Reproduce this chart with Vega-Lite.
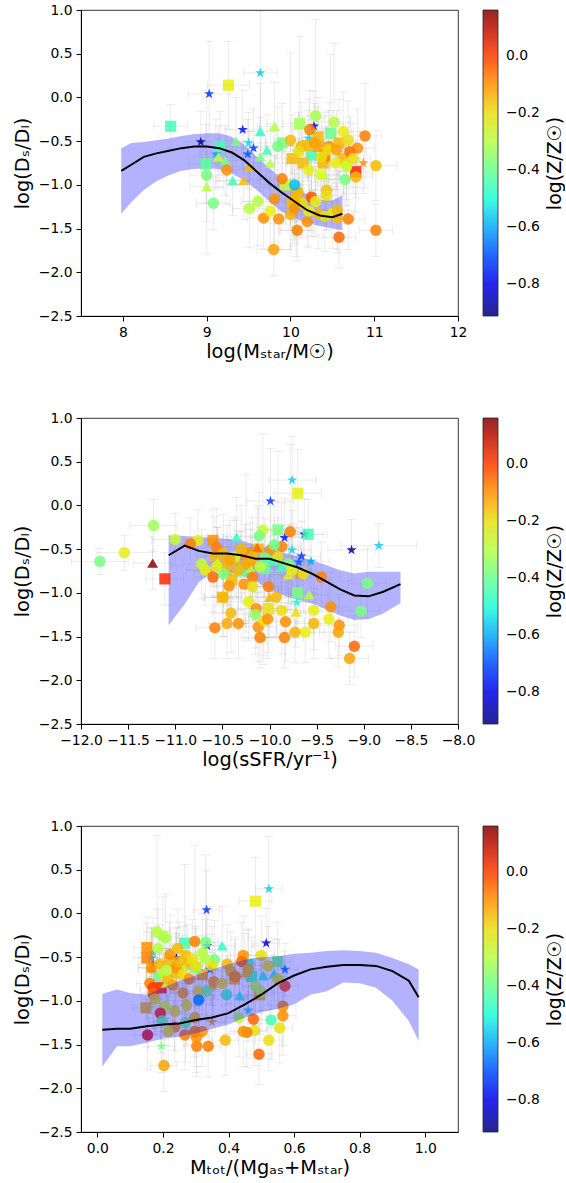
{
"$schema":"https://vega.github.io/schema/vega-lite/v6.json",
"background":"white",
"padding":{"left":11,"top":2,"right":0,"bottom":0},
"config":{"view":{"stroke":"#000","strokeWidth":0.8},
"axis":{"grid":false,"domainColor":"#000","tickColor":"#000","labelFont":"DejaVu Sans","titleFont":"DejaVu Sans","labelFontSize":13.9,"titleFontSize":19.4,"titleFontWeight":"normal","labelColor":"#000","titleColor":"#000","tickSize":5,"labelPadding":4,"labelOverlap":false,"labelFlush":false},
"legend":{"labelFont":"DejaVu Sans","titleFont":"DejaVu Sans","titleFontWeight":"normal","labelColor":"#000","titleColor":"#000"}},
"datasets":{
"b1":[{"x":7.98,"mid":-0.84,"hi":-0.58,"lo":-1.33},{"x":8.1,"mid":-0.77,"hi":-0.52,"lo":-1.2},{"x":8.25,"mid":-0.68,"hi":-0.51,"lo":-1.06},{"x":8.4,"mid":-0.64,"hi":-0.49,"lo":-0.96},{"x":8.55,"mid":-0.61,"hi":-0.47,"lo":-0.89},{"x":8.7,"mid":-0.58,"hi":-0.44,"lo":-0.84},{"x":8.85,"mid":-0.56,"hi":-0.42,"lo":-0.82},{"x":9.0,"mid":-0.56,"hi":-0.41,"lo":-0.81},{"x":9.15,"mid":-0.58,"hi":-0.41,"lo":-0.82},{"x":9.3,"mid":-0.63,"hi":-0.45,"lo":-0.87},{"x":9.45,"mid":-0.72,"hi":-0.54,"lo":-0.95},{"x":9.6,"mid":-0.85,"hi":-0.68,"lo":-1.06},{"x":9.75,"mid":-0.98,"hi":-0.81,"lo":-1.19},{"x":9.9,"mid":-1.09,"hi":-0.93,"lo":-1.31},{"x":10.05,"mid":-1.19,"hi":-1.03,"lo":-1.38},{"x":10.2,"mid":-1.29,"hi":-1.11,"lo":-1.44},{"x":10.35,"mid":-1.35,"hi":-1.17,"lo":-1.47},{"x":10.5,"mid":-1.37,"hi":-1.18,"lo":-1.5},{"x":10.62,"mid":-1.33,"hi":-1.12,"lo":-1.52}],
"b2":[{"x":-11.07,"mid":-0.57,"hi":-0.34,"lo":-1.37},{"x":-10.9,"mid":-0.46,"hi":-0.35,"lo":-1.13},{"x":-10.75,"mid":-0.52,"hi":-0.36,"lo":-0.88},{"x":-10.6,"mid":-0.55,"hi":-0.37,"lo":-0.76},{"x":-10.45,"mid":-0.55,"hi":-0.38,"lo":-0.76},{"x":-10.3,"mid":-0.57,"hi":-0.4,"lo":-0.8},{"x":-10.15,"mid":-0.61,"hi":-0.45,"lo":-0.86},{"x":-10.0,"mid":-0.61,"hi":-0.5,"lo":-0.97},{"x":-9.85,"mid":-0.66,"hi":-0.54,"lo":-1.03},{"x":-9.7,"mid":-0.71,"hi":-0.58,"lo":-1.08},{"x":-9.55,"mid":-0.78,"hi":-0.63,"lo":-1.12},{"x":-9.4,"mid":-0.87,"hi":-0.68,"lo":-1.19},{"x":-9.25,"mid":-0.96,"hi":-0.74,"lo":-1.26},{"x":-9.1,"mid":-1.03,"hi":-0.78,"lo":-1.31},{"x":-8.95,"mid":-1.04,"hi":-0.76,"lo":-1.3},{"x":-8.8,"mid":-0.99,"hi":-0.76,"lo":-1.24},{"x":-8.61,"mid":-0.9,"hi":-0.76,"lo":-1.12}],
"b3":[{"x":0.015,"mid":-1.33,"hi":-0.92,"lo":-1.75},{"x":0.06,"mid":-1.32,"hi":-0.87,"lo":-1.52},{"x":0.1,"mid":-1.32,"hi":-0.91,"lo":-1.52},{"x":0.15,"mid":-1.29,"hi":-0.93,"lo":-1.48},{"x":0.2,"mid":-1.27,"hi":-0.85,"lo":-1.43},{"x":0.25,"mid":-1.26,"hi":-0.77,"lo":-1.41},{"x":0.3,"mid":-1.22,"hi":-0.71,"lo":-1.37},{"x":0.35,"mid":-1.19,"hi":-0.64,"lo":-1.32},{"x":0.4,"mid":-1.14,"hi":-0.58,"lo":-1.27},{"x":0.45,"mid":-1.04,"hi":-0.53,"lo":-1.19},{"x":0.5,"mid":-0.93,"hi":-0.5,"lo":-1.13},{"x":0.55,"mid":-0.8,"hi":-0.49,"lo":-1.09},{"x":0.6,"mid":-0.71,"hi":-0.46,"lo":-1.04},{"x":0.65,"mid":-0.64,"hi":-0.45,"lo":-0.93},{"x":0.7,"mid":-0.61,"hi":-0.43,"lo":-0.89},{"x":0.75,"mid":-0.59,"hi":-0.42,"lo":-0.79},{"x":0.8,"mid":-0.59,"hi":-0.43,"lo":-0.8},{"x":0.85,"mid":-0.6,"hi":-0.45,"lo":-0.85},{"x":0.9,"mid":-0.66,"hi":-0.51,"lo":-1.0},{"x":0.95,"mid":-0.77,"hi":-0.58,"lo":-1.23},{"x":0.98,"mid":-0.96,"hi":-0.64,"lo":-1.46}],
"p1":[
{"x":9.03,"y":0.04,"z":-0.72,"s":"star","xe":0.25,"ye":0.6},
{"x":9.64,"y":0.28,"z":-0.56,"s":"star","xe":0.2,"ye":0.7},
{"x":8.93,"y":-0.51,"z":-0.88,"s":"star","xe":0.2,"ye":0.35},
{"x":9.43,"y":-0.37,"z":-0.76,"s":"star","xe":0.2,"ye":0.45},
{"x":9.11,"y":-0.65,"z":-0.6,"s":"star","xe":0.2,"ye":0.4},
{"x":9.56,"y":-0.58,"z":-0.72,"s":"star","xe":0.15,"ye":0.45},
{"x":9.49,"y":-0.65,"z":-0.68,"s":"star","xe":0.2,"ye":0.4},
{"x":9.5,"y":-0.52,"z":-0.55,"s":"star","xe":0.2,"ye":0.35},
{"x":10.28,"y":-0.33,"z":-0.82,"s":"star","xe":0.2,"ye":0.4},
{"x":10.22,"y":-0.47,"z":-0.55,"s":"star","xe":0.2,"ye":0.45},
{"x":10.07,"y":-1.52,"z":-0.38,"s":"star","xe":0.2,"ye":0.3},
{"x":10.87,"y":-0.75,"z":-0.1,"s":"star","xe":0.2,"ye":0.35},
{"x":9.26,"y":0.14,"z":-0.22,"s":"square","xe":0.25,"ye":0.5},
{"x":8.57,"y":-0.33,"z":-0.45,"s":"square","xe":0.2,"ye":0.25},
{"x":8.99,"y":-0.76,"z":-0.42,"s":"square","xe":0.2,"ye":0.45},
{"x":9.16,"y":-0.56,"z":-0.45,"s":"square","xe":0.2,"ye":0.4},
{"x":10.11,"y":-0.3,"z":-0.32,"s":"square","xe":0.2,"ye":1.0},
{"x":10.48,"y":-0.41,"z":-0.4,"s":"square","xe":0.25,"ye":0.9},
{"x":10.25,"y":-0.66,"z":-0.45,"s":"square","xe":0.2,"ye":0.4},
{"x":9.9,"y":-0.52,"z":-0.38,"s":"square","xe":0.2,"ye":0.45},
{"x":10.02,"y":-0.7,"z":-0.15,"s":"square","xe":0.2,"ye":0.5},
{"x":10.15,"y":-0.75,"z":-0.15,"s":"square","xe":0.2,"ye":0.4},
{"x":10.39,"y":-0.75,"z":-0.15,"s":"square","xe":0.2,"ye":0.4},
{"x":10.33,"y":-0.56,"z":-0.12,"s":"square","xe":0.2,"ye":0.45},
{"x":10.58,"y":-0.52,"z":-0.15,"s":"square","xe":0.2,"ye":0.5},
{"x":10.78,"y":-0.85,"z":0.03,"s":"square","xe":0.2,"ye":0.3},
{"x":9.94,"y":-1.0,"z":-0.28,"s":"square","xe":0.2,"ye":0.45},
{"x":10.07,"y":-1.1,"z":-0.15,"s":"square","xe":0.2,"ye":0.5},
{"x":10.41,"y":-0.67,"z":-0.08,"s":"square","xe":0.2,"ye":0.5},
{"x":10.63,"y":-0.7,"z":-0.15,"s":"square","xe":0.2,"ye":0.4},
{"x":10.33,"y":-0.45,"z":-0.15,"s":"square","xe":0.2,"ye":0.45},
{"x":10.2,"y":-0.55,"z":-0.15,"s":"square","xe":0.2,"ye":0.4},
{"x":10.02,"y":-1.2,"z":-0.15,"s":"square","xe":0.2,"ye":0.5},
{"x":9.0,"y":-1.02,"z":-0.3,"s":"triangle","xe":0.2,"ye":0.4},
{"x":9.31,"y":-0.95,"z":-0.46,"s":"triangle","xe":0.2,"ye":0.4},
{"x":9.44,"y":-0.95,"z":-0.15,"s":"triangle","xe":0.2,"ye":0.45},
{"x":9.35,"y":-0.5,"z":-0.38,"s":"triangle","xe":0.2,"ye":0.5},
{"x":9.64,"y":-0.39,"z":-0.47,"s":"triangle","xe":0.2,"ye":0.55},
{"x":9.81,"y":-0.33,"z":-0.3,"s":"triangle","xe":0.2,"ye":0.5},
{"x":9.76,"y":-0.75,"z":-0.3,"s":"triangle","xe":0.2,"ye":0.45},
{"x":9.64,"y":-0.68,"z":-0.38,"s":"triangle","xe":0.2,"ye":0.45},
{"x":9.51,"y":-0.79,"z":-0.15,"s":"triangle","xe":0.2,"ye":0.4},
{"x":10.4,"y":-0.89,"z":-0.28,"s":"triangle","xe":0.2,"ye":0.4},
{"x":9.72,"y":-0.6,"z":-0.45,"s":"triangle","xe":0.2,"ye":0.4},
{"x":9.22,"y":-0.72,"z":-0.38,"s":"triangle","xe":0.2,"ye":0.4},
{"x":9.14,"y":-0.68,"z":-0.28,"s":"triangle","xe":0.2,"ye":0.35},
{"x":9.0,"y":-0.89,"z":-0.38,"s":"circle","xe":0.2,"ye":0.9},
{"x":9.08,"y":-1.21,"z":-0.38,"s":"circle","xe":0.2,"ye":0.3},
{"x":9.24,"y":-0.83,"z":-0.1,"s":"circle","xe":0.2,"ye":0.4},
{"x":9.51,"y":-1.27,"z":-0.3,"s":"circle","xe":0.2,"ye":0.45},
{"x":9.61,"y":-1.19,"z":-0.3,"s":"circle","xe":0.2,"ye":0.5},
{"x":9.68,"y":-1.38,"z":-0.1,"s":"circle","xe":0.2,"ye":0.35},
{"x":9.76,"y":-1.3,"z":-0.22,"s":"circle","xe":0.2,"ye":0.45},
{"x":9.81,"y":-1.16,"z":-0.1,"s":"circle","xe":0.2,"ye":0.5},
{"x":9.86,"y":-1.39,"z":-0.1,"s":"circle","xe":0.2,"ye":0.35},
{"x":9.8,"y":-1.74,"z":-0.12,"s":"circle","xe":0.2,"ye":0.3},
{"x":9.9,"y":-0.93,"z":-0.08,"s":"circle","xe":0.2,"ye":0.45},
{"x":10.0,"y":-1.34,"z":-0.14,"s":"circle","xe":0.2,"ye":0.4},
{"x":10.09,"y":-1.08,"z":-0.15,"s":"circle","xe":0.2,"ye":0.5},
{"x":10.14,"y":-1.21,"z":-0.2,"s":"circle","xe":0.2,"ye":0.4},
{"x":10.2,"y":-1.42,"z":-0.1,"s":"circle","xe":0.2,"ye":0.3},
{"x":10.08,"y":-1.52,"z":-0.08,"s":"circle","xe":0.2,"ye":0.35},
{"x":10.25,"y":-1.14,"z":-0.03,"s":"circle","xe":0.2,"ye":0.45},
{"x":10.3,"y":-1.19,"z":-0.22,"s":"circle","xe":0.2,"ye":0.4},
{"x":10.43,"y":-1.06,"z":-0.16,"s":"circle","xe":0.2,"ye":0.45},
{"x":10.43,"y":-1.12,"z":-0.2,"s":"circle","xe":0.2,"ye":0.4},
{"x":10.5,"y":-1.33,"z":-0.22,"s":"circle","xe":0.2,"ye":0.4},
{"x":10.56,"y":-1.29,"z":-0.15,"s":"circle","xe":0.2,"ye":0.45},
{"x":10.56,"y":-1.38,"z":-0.15,"s":"circle","xe":0.2,"ye":0.4},
{"x":10.69,"y":-1.39,"z":-0.08,"s":"circle","xe":0.2,"ye":0.35},
{"x":10.58,"y":-1.6,"z":-0.05,"s":"circle","xe":0.2,"ye":0.35},
{"x":11.02,"y":-1.52,"z":-0.08,"s":"circle","xe":0.2,"ye":0.3},
{"x":11.02,"y":-0.78,"z":-0.15,"s":"circle","xe":0.25,"ye":0.4},
{"x":10.89,"y":-0.44,"z":-0.08,"s":"circle","xe":0.2,"ye":0.6},
{"x":10.8,"y":-0.58,"z":-0.1,"s":"circle","xe":0.2,"ye":0.45},
{"x":10.71,"y":-0.62,"z":-0.06,"s":"circle","xe":0.2,"ye":0.4},
{"x":10.65,"y":-0.94,"z":-0.38,"s":"circle","xe":0.2,"ye":0.4},
{"x":10.3,"y":-0.21,"z":-0.32,"s":"circle","xe":0.2,"ye":1.1},
{"x":10.52,"y":-0.28,"z":-0.3,"s":"circle","xe":0.2,"ye":0.9},
{"x":10.63,"y":-0.39,"z":-0.22,"s":"circle","xe":0.2,"ye":0.45},
{"x":10.69,"y":-0.49,"z":-0.2,"s":"circle","xe":0.2,"ye":0.45},
{"x":10.0,"y":-0.49,"z":-0.15,"s":"circle","xe":0.2,"ye":1.0},
{"x":10.23,"y":-0.37,"z":-0.08,"s":"circle","xe":0.2,"ye":0.45},
{"x":10.37,"y":-0.68,"z":-0.2,"s":"circle","xe":0.2,"ye":0.45},
{"x":10.22,"y":-0.83,"z":-0.22,"s":"circle","xe":0.2,"ye":0.4},
{"x":10.67,"y":-0.77,"z":-0.2,"s":"circle","xe":0.2,"ye":0.4},
{"x":10.78,"y":-0.91,"z":-0.15,"s":"circle","xe":0.2,"ye":0.4},
{"x":10.54,"y":-0.75,"z":-0.22,"s":"circle","xe":0.2,"ye":0.45},
{"x":10.46,"y":-0.56,"z":-0.1,"s":"circle","xe":0.2,"ye":0.5},
{"x":10.29,"y":-0.52,"z":-0.12,"s":"circle","xe":0.2,"ye":0.45},
{"x":10.13,"y":-0.56,"z":-0.15,"s":"circle","xe":0.2,"ye":0.5},
{"x":10.05,"y":-1.18,"z":-0.15,"s":"circle","xe":0.2,"ye":0.45},
{"x":10.33,"y":-1.33,"z":-0.15,"s":"circle","xe":0.2,"ye":0.4},
{"x":10.05,"y":-1.27,"z":-0.1,"s":"circle","xe":0.2,"ye":0.4},
{"x":10.41,"y":-1.36,"z":-0.2,"s":"circle","xe":0.2,"ye":0.4},
{"x":10.22,"y":-1.3,"z":-0.22,"s":"circle","xe":0.2,"ye":0.4},
{"x":10.67,"y":-0.79,"z":-0.28,"s":"circle","xe":0.2,"ye":0.45},
{"x":10.05,"y":-1.0,"z":-0.58,"s":"circle","xe":0.2,"ye":0.4},
{"x":10.45,"y":-0.6,"z":-0.2,"s":"circle","xe":0.2,"ye":0.45},
{"x":10.1,"y":-0.62,"z":-0.2,"s":"circle","xe":0.2,"ye":0.45},
{"x":10.55,"y":-0.6,"z":-0.12,"s":"circle","xe":0.2,"ye":0.45},
{"x":9.85,"y":-0.56,"z":-0.38,"s":"circle","xe":0.2,"ye":0.45},
{"x":10.75,"y":-0.7,"z":-0.2,"s":"circle","xe":0.2,"ye":0.4},
{"x":10.36,"y":-0.88,"z":-0.25,"s":"circle","xe":0.2,"ye":0.4}],
"p2":[
{"x":-9.76,"y":0.29,"z":-0.56,"s":"star","xe":0.25,"ye":0.5},
{"x":-9.99,"y":0.05,"z":-0.72,"s":"star","xe":0.25,"ye":0.6},
{"x":-9.84,"y":-0.37,"z":-0.76,"s":"star","xe":0.2,"ye":0.45},
{"x":-9.63,"y":-0.33,"z":-0.82,"s":"star","xe":0.2,"ye":0.4},
{"x":-9.13,"y":-0.51,"z":-0.88,"s":"star","xe":0.25,"ye":0.35},
{"x":-8.84,"y":-0.46,"z":-0.56,"s":"star","xe":0.4,"ye":0.25},
{"x":-9.76,"y":-0.51,"z":-0.55,"s":"star","xe":0.2,"ye":0.45},
{"x":-9.66,"y":-0.58,"z":-0.72,"s":"star","xe":0.2,"ye":0.4},
{"x":-9.69,"y":-0.65,"z":-0.68,"s":"star","xe":0.2,"ye":0.4},
{"x":-9.56,"y":-0.64,"z":-0.6,"s":"star","xe":0.2,"ye":0.35},
{"x":-9.71,"y":-1.11,"z":-0.5,"s":"star","xe":0.2,"ye":0.35},
{"x":-10.07,"y":-1.52,"z":-0.38,"s":"star","xe":0.2,"ye":0.3},
{"x":-9.7,"y":-0.8,"z":-0.1,"s":"star","xe":0.2,"ye":0.3},
{"x":-9.7,"y":0.14,"z":-0.22,"s":"square","xe":0.25,"ye":0.5},
{"x":-10.6,"y":-0.4,"z":-0.1,"s":"square","xe":0.2,"ye":0.35},
{"x":-11.11,"y":-0.84,"z":0.02,"s":"square","xe":0.2,"ye":0.3},
{"x":-9.59,"y":-0.33,"z":-0.45,"s":"square","xe":0.2,"ye":0.4},
{"x":-9.91,"y":-0.28,"z":-0.38,"s":"square","xe":0.2,"ye":0.9},
{"x":-10.5,"y":-1.05,"z":-0.15,"s":"square","xe":0.2,"ye":0.45},
{"x":-10.01,"y":-1.18,"z":-0.2,"s":"square","xe":0.2,"ye":0.5},
{"x":-9.7,"y":-1.0,"z":-0.38,"s":"square","xe":0.2,"ye":0.45},
{"x":-10.45,"y":-0.68,"z":-0.15,"s":"square","xe":0.2,"ye":0.45},
{"x":-10.25,"y":-0.55,"z":-0.1,"s":"square","xe":0.2,"ye":0.9},
{"x":-10.05,"y":-0.72,"z":-0.4,"s":"square","xe":0.2,"ye":0.45},
{"x":-10.3,"y":-0.75,"z":-0.42,"s":"square","xe":0.2,"ye":0.45},
{"x":-10.12,"y":-0.5,"z":-0.15,"s":"square","xe":0.2,"ye":0.5},
{"x":-10.58,"y":-0.58,"z":-0.15,"s":"square","xe":0.2,"ye":0.45},
{"x":-9.95,"y":-0.62,"z":-0.45,"s":"square","xe":0.2,"ye":0.45},
{"x":-10.4,"y":-0.85,"z":-0.15,"s":"square","xe":0.2,"ye":0.45},
{"x":-10.2,"y":-0.65,"z":-0.12,"s":"square","xe":0.2,"ye":0.45},
{"x":-11.24,"y":-0.66,"z":0.15,"s":"triangle","xe":0.2,"ye":0.3},
{"x":-10.35,"y":-0.36,"z":-0.47,"s":"triangle","xe":0.2,"ye":0.45},
{"x":-10.13,"y":-0.48,"z":-0.05,"s":"triangle","xe":0.2,"ye":0.45},
{"x":-9.58,"y":-1.02,"z":-0.3,"s":"triangle","xe":0.2,"ye":0.4},
{"x":-10.35,"y":-0.62,"z":-0.15,"s":"triangle","xe":0.2,"ye":0.45},
{"x":-10.2,"y":-0.72,"z":-0.3,"s":"triangle","xe":0.2,"ye":0.45},
{"x":-9.88,"y":-0.71,"z":-0.45,"s":"triangle","xe":0.2,"ye":0.45},
{"x":-10.45,"y":-0.75,"z":-0.15,"s":"triangle","xe":0.2,"ye":0.4},
{"x":-10.0,"y":-1.05,"z":-0.15,"s":"triangle","xe":0.2,"ye":0.45},
{"x":-9.77,"y":-0.68,"z":-0.38,"s":"triangle","xe":0.2,"ye":0.45},
{"x":-9.8,"y":-0.79,"z":-0.22,"s":"triangle","xe":0.2,"ye":0.4},
{"x":-10.55,"y":-0.65,"z":-0.3,"s":"triangle","xe":0.2,"ye":0.4},
{"x":-9.72,"y":-1.22,"z":-0.2,"s":"triangle","xe":0.2,"ye":0.4},
{"x":-11.8,"y":-0.64,"z":-0.38,"s":"circle","xe":0.3,"ye":0.15},
{"x":-11.54,"y":-0.54,"z":-0.22,"s":"circle","xe":0.3,"ye":0.2},
{"x":-11.23,"y":-0.23,"z":-0.33,"s":"circle","xe":0.25,"ye":0.3},
{"x":-11.0,"y":-0.39,"z":-0.28,"s":"circle","xe":0.25,"ye":0.3},
{"x":-10.76,"y":-0.4,"z":-0.22,"s":"circle","xe":0.2,"ye":0.35},
{"x":-10.84,"y":-0.44,"z":-0.08,"s":"circle","xe":0.2,"ye":0.3},
{"x":-10.07,"y":-0.28,"z":-0.28,"s":"circle","xe":0.2,"ye":1.1},
{"x":-10.11,"y":-0.35,"z":-0.38,"s":"circle","xe":0.2,"ye":0.5},
{"x":-9.78,"y":-0.3,"z":-0.08,"s":"circle","xe":0.2,"ye":1.0},
{"x":-8.96,"y":-0.89,"z":-0.38,"s":"circle","xe":0.2,"ye":0.4},
{"x":-9.03,"y":-1.21,"z":-0.38,"s":"circle","xe":0.2,"ye":0.3},
{"x":-9.45,"y":-0.82,"z":-0.08,"s":"circle","xe":0.2,"ye":0.4},
{"x":-9.35,"y":-1.16,"z":-0.1,"s":"circle","xe":0.2,"ye":0.4},
{"x":-9.37,"y":-1.3,"z":-0.22,"s":"circle","xe":0.2,"ye":0.45},
{"x":-9.26,"y":-1.37,"z":-0.1,"s":"circle","xe":0.2,"ye":0.35},
{"x":-9.27,"y":-1.45,"z":-0.12,"s":"circle","xe":0.2,"ye":0.4},
{"x":-9.1,"y":-1.61,"z":-0.05,"s":"circle","xe":0.2,"ye":0.35},
{"x":-9.15,"y":-1.75,"z":-0.12,"s":"circle","xe":0.2,"ye":0.3},
{"x":-9.53,"y":-1.2,"z":-0.22,"s":"circle","xe":0.2,"ye":0.45},
{"x":-9.53,"y":-1.35,"z":-0.14,"s":"circle","xe":0.2,"ye":0.4},
{"x":-9.62,"y":-1.45,"z":-0.22,"s":"circle","xe":0.2,"ye":0.35},
{"x":-9.73,"y":-1.45,"z":-0.14,"s":"circle","xe":0.2,"ye":0.35},
{"x":-9.84,"y":-1.51,"z":-0.08,"s":"circle","xe":0.2,"ye":0.35},
{"x":-9.83,"y":-1.33,"z":-0.1,"s":"circle","xe":0.2,"ye":0.45},
{"x":-9.87,"y":-1.2,"z":-0.2,"s":"circle","xe":0.2,"ye":0.5},
{"x":-9.93,"y":-1.05,"z":-0.15,"s":"circle","xe":0.2,"ye":0.45},
{"x":-10.01,"y":-0.93,"z":-0.08,"s":"circle","xe":0.2,"ye":0.45},
{"x":-10.22,"y":-1.1,"z":-0.22,"s":"circle","xe":0.2,"ye":0.45},
{"x":-10.14,"y":-1.18,"z":-0.1,"s":"circle","xe":0.2,"ye":0.45},
{"x":-10.12,"y":-1.39,"z":-0.1,"s":"circle","xe":0.2,"ye":0.4},
{"x":-10.1,"y":-1.51,"z":-0.08,"s":"circle","xe":0.2,"ye":0.35},
{"x":-10.06,"y":-1.32,"z":-0.2,"s":"circle","xe":0.2,"ye":0.4},
{"x":-10.02,"y":-1.3,"z":-0.1,"s":"circle","xe":0.2,"ye":0.45},
{"x":-10.58,"y":-1.4,"z":-0.08,"s":"circle","xe":0.2,"ye":0.35},
{"x":-10.45,"y":-1.35,"z":-0.13,"s":"circle","xe":0.2,"ye":0.4},
{"x":-10.33,"y":-1.35,"z":-0.1,"s":"circle","xe":0.2,"ye":0.4},
{"x":-10.41,"y":-1.23,"z":-0.15,"s":"circle","xe":0.2,"ye":0.45},
{"x":-10.49,"y":-1.05,"z":-0.15,"s":"circle","xe":0.2,"ye":0.45},
{"x":-10.43,"y":-0.92,"z":-0.1,"s":"circle","xe":0.2,"ye":0.45},
{"x":-10.27,"y":-0.9,"z":-0.1,"s":"circle","xe":0.2,"ye":0.45},
{"x":-10.72,"y":-0.67,"z":-0.28,"s":"circle","xe":0.2,"ye":0.4},
{"x":-10.68,"y":-0.74,"z":-0.22,"s":"circle","xe":0.2,"ye":0.4},
{"x":-10.56,"y":-0.48,"z":-0.08,"s":"circle","xe":0.2,"ye":0.45},
{"x":-10.49,"y":-0.55,"z":-0.15,"s":"circle","xe":0.2,"ye":0.45},
{"x":-10.37,"y":-0.59,"z":-0.28,"s":"circle","xe":0.2,"ye":0.45},
{"x":-10.25,"y":-0.67,"z":-0.13,"s":"circle","xe":0.2,"ye":0.45},
{"x":-10.18,"y":-0.59,"z":-0.15,"s":"circle","xe":0.2,"ye":0.45},
{"x":-10.49,"y":-0.78,"z":-0.38,"s":"circle","xe":0.2,"ye":0.45},
{"x":-10.56,"y":-0.7,"z":-0.22,"s":"circle","xe":0.2,"ye":0.45},
{"x":-9.99,"y":-0.51,"z":-0.1,"s":"circle","xe":0.2,"ye":0.5},
{"x":-9.91,"y":-0.59,"z":-0.2,"s":"circle","xe":0.2,"ye":0.45},
{"x":-9.8,"y":-0.67,"z":-0.38,"s":"circle","xe":0.2,"ye":0.45},
{"x":-9.76,"y":-0.74,"z":-0.22,"s":"circle","xe":0.2,"ye":0.45},
{"x":-9.64,"y":-0.78,"z":-0.2,"s":"circle","xe":0.2,"ye":0.45},
{"x":-9.87,"y":-0.47,"z":-0.08,"s":"circle","xe":0.2,"ye":0.5},
{"x":-10.18,"y":-0.82,"z":-0.08,"s":"circle","xe":0.2,"ye":0.45},
{"x":-10.1,"y":-0.7,"z":-0.28,"s":"circle","xe":0.2,"ye":0.45},
{"x":-10.33,"y":-0.74,"z":-0.15,"s":"circle","xe":0.2,"ye":0.45},
{"x":-10.6,"y":-0.82,"z":-0.05,"s":"circle","xe":0.2,"ye":0.4},
{"x":-10.18,"y":-0.93,"z":-0.2,"s":"circle","xe":0.2,"ye":0.45},
{"x":-10.15,"y":-1.25,"z":-0.35,"s":"circle","xe":0.2,"ye":0.45},
{"x":-10.05,"y":-0.6,"z":-0.4,"s":"circle","xe":0.2,"ye":0.45},
{"x":-9.95,"y":-0.45,"z":-0.4,"s":"circle","xe":0.2,"ye":0.5},
{"x":-10.3,"y":-0.5,"z":-0.15,"s":"circle","xe":0.2,"ye":0.5},
{"x":-10.42,"y":-0.62,"z":-0.12,"s":"circle","xe":0.2,"ye":0.45}],
"p3":[
{"x":0.523,"y":0.28,"z":-0.56,"s":"star","xe":0.04,"ye":0.6},
{"x":0.333,"y":0.04,"z":-0.72,"s":"star","xe":0.04,"ye":0.45},
{"x":0.335,"y":-0.37,"z":-0.76,"s":"star","xe":0.04,"ye":0.45},
{"x":0.515,"y":-0.34,"z":-0.82,"s":"star","xe":0.04,"ye":0.4},
{"x":0.241,"y":-0.51,"z":-0.88,"s":"star","xe":0.04,"ye":0.35},
{"x":0.343,"y":-0.64,"z":-0.72,"s":"star","xe":0.04,"ye":0.4},
{"x":0.572,"y":-0.64,"z":-0.65,"s":"star","xe":0.04,"ye":0.3},
{"x":0.17,"y":-0.45,"z":-0.56,"s":"star","xe":0.04,"ye":0.4},
{"x":0.17,"y":-0.58,"z":-0.72,"s":"star","xe":0.04,"ye":0.4},
{"x":0.165,"y":-0.51,"z":-0.6,"s":"star","xe":0.04,"ye":0.35},
{"x":0.46,"y":-1.11,"z":-0.55,"s":"star","xe":0.04,"ye":0.35},
{"x":0.195,"y":-1.52,"z":-0.38,"s":"star","xe":0.04,"ye":0.3},
{"x":0.35,"y":-1.24,"z":-0.12,"s":"star","xe":0.04,"ye":0.3},
{"x":0.482,"y":0.14,"z":-0.22,"s":"square","xe":0.05,"ye":0.5},
{"x":0.266,"y":-0.34,"z":-0.45,"s":"square","xe":0.04,"ye":0.9},
{"x":0.151,"y":-0.39,"z":-0.1,"s":"square","xe":0.04,"ye":0.35},
{"x":0.151,"y":-0.51,"z":-0.08,"s":"square","xe":0.04,"ye":0.4},
{"x":0.46,"y":-0.58,"z":-0.45,"s":"square","xe":0.04,"ye":0.4},
{"x":0.194,"y":-0.85,"z":0.02,"s":"square","xe":0.04,"ye":0.3},
{"x":0.148,"y":-1.08,"z":-0.15,"s":"square","xe":0.04,"ye":0.45},
{"x":0.495,"y":-0.93,"z":-0.15,"s":"square","xe":0.04,"ye":0.45},
{"x":0.55,"y":-0.55,"z":-0.38,"s":"square","xe":0.04,"ye":0.45},
{"x":0.418,"y":-0.75,"z":-0.15,"s":"square","xe":0.04,"ye":0.45},
{"x":0.32,"y":-0.7,"z":-0.12,"s":"square","xe":0.04,"ye":0.45},
{"x":0.275,"y":-0.58,"z":-0.15,"s":"square","xe":0.04,"ye":0.45},
{"x":0.24,"y":-0.68,"z":-0.15,"s":"square","xe":0.04,"ye":0.45},
{"x":0.19,"y":-0.72,"z":-0.42,"s":"square","xe":0.04,"ye":0.45},
{"x":0.3,"y":-0.62,"z":-0.4,"s":"square","xe":0.04,"ye":0.45},
{"x":0.22,"y":-0.55,"z":-0.15,"s":"square","xe":0.04,"ye":0.45},
{"x":0.47,"y":-0.72,"z":-0.45,"s":"square","xe":0.04,"ye":0.45},
{"x":0.381,"y":-0.37,"z":-0.47,"s":"triangle","xe":0.04,"ye":0.45},
{"x":0.506,"y":-0.71,"z":-0.5,"s":"triangle","xe":0.04,"ye":0.4},
{"x":0.539,"y":-0.69,"z":-0.52,"s":"triangle","xe":0.04,"ye":0.4},
{"x":0.434,"y":-0.94,"z":-0.5,"s":"triangle","xe":0.04,"ye":0.4},
{"x":0.164,"y":-0.62,"z":-0.1,"s":"triangle","xe":0.04,"ye":0.4},
{"x":0.21,"y":-0.8,"z":-0.3,"s":"triangle","xe":0.04,"ye":0.4},
{"x":0.35,"y":-0.82,"z":-0.15,"s":"triangle","xe":0.04,"ye":0.4},
{"x":0.26,"y":-0.6,"z":-0.3,"s":"triangle","xe":0.04,"ye":0.45},
{"x":0.45,"y":-0.68,"z":-0.15,"s":"triangle","xe":0.04,"ye":0.45},
{"x":0.182,"y":-0.21,"z":-0.3,"s":"circle","xe":0.04,"ye":1.1},
{"x":0.208,"y":-0.28,"z":-0.32,"s":"circle","xe":0.04,"ye":0.5},
{"x":0.2,"y":-0.26,"z":-0.3,"s":"circle","xe":0.04,"ye":0.45},
{"x":0.297,"y":-0.32,"z":-0.08,"s":"circle","xe":0.04,"ye":1.1},
{"x":0.33,"y":-0.33,"z":-0.38,"s":"circle","xe":0.04,"ye":1.0},
{"x":0.357,"y":-0.53,"z":-0.38,"s":"circle","xe":0.04,"ye":0.45},
{"x":0.5,"y":-0.48,"z":-0.2,"s":"circle","xe":0.04,"ye":0.45},
{"x":0.445,"y":-0.48,"z":-0.1,"s":"circle","xe":0.04,"ye":0.45},
{"x":0.396,"y":-0.58,"z":-0.15,"s":"circle","xe":0.04,"ye":0.45},
{"x":0.407,"y":-0.66,"z":-0.15,"s":"circle","xe":0.04,"ye":0.45},
{"x":0.355,"y":-0.78,"z":-0.12,"s":"circle","xe":0.04,"ye":0.45},
{"x":0.261,"y":-0.91,"z":-0.12,"s":"circle","xe":0.04,"ye":0.45},
{"x":0.308,"y":-0.89,"z":-0.2,"s":"circle","xe":0.04,"ye":0.45},
{"x":0.394,"y":-0.93,"z":-0.45,"s":"circle","xe":0.04,"ye":0.45},
{"x":0.309,"y":-0.99,"z":-0.62,"s":"circle","xe":0.04,"ye":0.4},
{"x":0.333,"y":-0.89,"z":-0.38,"s":"circle","xe":0.04,"ye":0.45},
{"x":0.482,"y":-0.83,"z":-0.3,"s":"circle","xe":0.04,"ye":0.45},
{"x":0.572,"y":-0.83,"z":-0.02,"s":"circle","xe":0.04,"ye":0.4},
{"x":0.566,"y":-1.06,"z":-0.1,"s":"circle","xe":0.04,"ye":0.45},
{"x":0.566,"y":-1.17,"z":-0.1,"s":"circle","xe":0.04,"ye":0.45},
{"x":0.53,"y":-1.22,"z":-0.45,"s":"circle","xe":0.04,"ye":0.45},
{"x":0.556,"y":-1.31,"z":-0.2,"s":"circle","xe":0.04,"ye":0.4},
{"x":0.523,"y":-1.45,"z":-0.2,"s":"circle","xe":0.04,"ye":0.35},
{"x":0.493,"y":-1.61,"z":-0.05,"s":"circle","xe":0.04,"ye":0.35},
{"x":0.479,"y":-1.34,"z":-0.2,"s":"circle","xe":0.04,"ye":0.4},
{"x":0.456,"y":-1.36,"z":-0.08,"s":"circle","xe":0.04,"ye":0.4},
{"x":0.445,"y":-1.35,"z":-0.1,"s":"circle","xe":0.04,"ye":0.4},
{"x":0.476,"y":-1.21,"z":-0.05,"s":"circle","xe":0.04,"ye":0.45},
{"x":0.432,"y":-1.19,"z":-0.3,"s":"circle","xe":0.04,"ye":0.45},
{"x":0.39,"y":-1.45,"z":-0.15,"s":"circle","xe":0.04,"ye":0.4},
{"x":0.338,"y":-1.52,"z":-0.08,"s":"circle","xe":0.04,"ye":0.35},
{"x":0.303,"y":-1.52,"z":-0.08,"s":"circle","xe":0.04,"ye":0.35},
{"x":0.302,"y":-1.42,"z":-0.1,"s":"circle","xe":0.04,"ye":0.4},
{"x":0.319,"y":-1.35,"z":-0.1,"s":"circle","xe":0.04,"ye":0.4},
{"x":0.297,"y":-1.35,"z":-0.08,"s":"circle","xe":0.04,"ye":0.4},
{"x":0.267,"y":-1.39,"z":-0.08,"s":"circle","xe":0.04,"ye":0.4},
{"x":0.297,"y":-1.19,"z":-0.15,"s":"circle","xe":0.04,"ye":0.45},
{"x":0.272,"y":-1.05,"z":-0.2,"s":"circle","xe":0.04,"ye":0.45},
{"x":0.236,"y":-1.12,"z":-0.2,"s":"circle","xe":0.04,"ye":0.45},
{"x":0.269,"y":-1.25,"z":-0.4,"s":"circle","xe":0.04,"ye":0.45},
{"x":0.236,"y":-1.3,"z":-0.1,"s":"circle","xe":0.04,"ye":0.4},
{"x":0.216,"y":-1.35,"z":-0.2,"s":"circle","xe":0.04,"ye":0.4},
{"x":0.206,"y":-1.06,"z":-0.25,"s":"circle","xe":0.04,"ye":0.45},
{"x":0.192,"y":-1.14,"z":0.02,"s":"circle","xe":0.04,"ye":0.45},
{"x":0.197,"y":-1.23,"z":-0.4,"s":"circle","xe":0.04,"ye":0.45},
{"x":0.153,"y":-1.39,"z":0.05,"s":"circle","xe":0.04,"ye":0.4},
{"x":0.203,"y":-1.74,"z":-0.12,"s":"circle","xe":0.04,"ye":0.3},
{"x":0.165,"y":-0.62,"z":-0.1,"s":"circle","xe":0.04,"ye":0.45},
{"x":0.222,"y":-0.47,"z":-0.1,"s":"circle","xe":0.04,"ye":0.45},
{"x":0.19,"y":-0.58,"z":-0.15,"s":"circle","xe":0.04,"ye":0.45},
{"x":0.24,"y":-0.62,"z":-0.1,"s":"circle","xe":0.04,"ye":0.45},
{"x":0.26,"y":-0.7,"z":-0.2,"s":"circle","xe":0.04,"ye":0.45},
{"x":0.28,"y":-0.75,"z":-0.1,"s":"circle","xe":0.04,"ye":0.45},
{"x":0.16,"y":-0.8,"z":-0.08,"s":"circle","xe":0.04,"ye":0.4},
{"x":0.17,"y":-0.85,"z":0.0,"s":"circle","xe":0.04,"ye":0.4},
{"x":0.2,"y":-0.7,"z":-0.28,"s":"circle","xe":0.04,"ye":0.45},
{"x":0.215,"y":-0.75,"z":-0.15,"s":"circle","xe":0.04,"ye":0.45},
{"x":0.27,"y":-0.48,"z":-0.15,"s":"circle","xe":0.04,"ye":0.45},
{"x":0.32,"y":-0.45,"z":-0.3,"s":"circle","xe":0.04,"ye":0.45},
{"x":0.3,"y":-0.6,"z":-0.2,"s":"circle","xe":0.04,"ye":0.45},
{"x":0.25,"y":-0.55,"z":-0.15,"s":"circle","xe":0.04,"ye":0.45},
{"x":0.21,"y":-0.65,"z":-0.3,"s":"circle","xe":0.04,"ye":0.45},
{"x":0.17,"y":-0.92,"z":-0.05,"s":"circle","xe":0.04,"ye":0.4},
{"x":0.175,"y":-0.98,"z":-0.2,"s":"circle","xe":0.04,"ye":0.4},
{"x":0.29,"y":-0.52,"z":-0.2,"s":"circle","xe":0.04,"ye":0.45},
{"x":0.33,"y":-0.52,"z":-0.3,"s":"circle","xe":0.04,"ye":0.45},
{"x":0.35,"y":-0.6,"z":-0.2,"s":"circle","xe":0.04,"ye":0.45},
{"x":0.23,"y":-0.82,"z":-0.12,"s":"circle","xe":0.04,"ye":0.45},
{"x":0.185,"y":-0.4,"z":-0.3,"s":"circle","xe":0.04,"ye":0.45},
{"x":0.245,"y":-0.4,"z":-0.15,"s":"circle","xe":0.04,"ye":0.45},
{"x":0.44,"y":-0.55,"z":-0.06,"s":"circle","xe":0.04,"ye":0.45},
{"x":0.46,"y":-0.64,"z":-0.15,"s":"circle","xe":0.04,"ye":0.45},
{"x":0.52,"y":-0.6,"z":-0.2,"s":"circle","xe":0.04,"ye":0.45},
{"x":0.42,"y":-0.72,"z":-0.1,"s":"circle","xe":0.04,"ye":0.45},
{"x":0.38,"y":-0.8,"z":-0.2,"s":"circle","xe":0.04,"ye":0.45},
{"x":0.55,"y":-0.75,"z":-0.2,"s":"circle","xe":0.04,"ye":0.45},
{"x":0.5,"y":-0.9,"z":-0.28,"s":"circle","xe":0.04,"ye":0.45}]
},
"vconcat":[
{"width":377,"height":306,"resolve":{"axis":{"y":"independent"}},"layer":[
{"layer":[
{"data":{"name":"b1"},"mark":{"type":"area","color":"#0000ff","opacity":0.3},"encoding":{"x":{"field":"x","type":"quantitative","title":"log(Mₛₜₐᵣ/M☉)","scale":{"domain":[7.5,12],"nice":false,"zero":false},"axis":{"values":[8,9,10,11,12],"format":"d","titlePadding":4}},"y":{"field":"lo","type":"quantitative","title":"log(Dₛ/Dₗ)","scale":{"domain":[-2.5,1],"nice":false,"zero":false},"axis":{"values":[-2.5,-2,-1.5,-1,-0.5,0,0.5,1],"labelExpr":"replace(format(datum.value,'.1f'),'-','−')","titlePadding":6}},"y2":{"field":"hi"}}},
{"data":{"name":"p1"},"mark":{"type":"errorbar","color":"#808080","opacity":0.15,"ticks":{"size":9,"color":"#808080","opacity":0.15}},"encoding":{"x":{"field":"x","type":"quantitative","title":"log(Mₛₜₐᵣ/M☉)"},"y":{"field":"y","type":"quantitative","title":"log(Dₛ/Dₗ)"},"yError":{"field":"ye"}}},
{"data":{"name":"p1"},"mark":{"type":"errorbar","color":"#808080","opacity":0.15,"ticks":{"size":9,"color":"#808080","opacity":0.15}},"encoding":{"y":{"field":"y","type":"quantitative","title":"log(Dₛ/Dₗ)"},"x":{"field":"x","type":"quantitative","title":"log(Mₛₜₐᵣ/M☉)"},"xError":{"field":"xe"}}},
{"data":{"name":"p1"},"mark":{"type":"point","filled":true,"opacity":0.85,"strokeWidth":0},"encoding":{"x":{"field":"x","type":"quantitative","title":"log(Mₛₜₐᵣ/M☉)"},"y":{"field":"y","type":"quantitative","title":"log(Dₛ/Dₗ)"},
"color":{"field":"z","type":"quantitative","scale":{"type":"linear","domain":[-0.911,-0.777,-0.643,-0.509,-0.375,-0.241,-0.107,0.027,0.161],"range":["#000080","#0000ff","#0080ff","#14ffe2","#7cff7c","#e2ff14","#ff9700","#ff2100","#800000"],"interpolate":"rgb","clamp":true},"legend":{"type":"gradient","direction":"vertical","orient":"right","offset":-81,"padding":0,"gradientLength":306,"gradientThickness":15,"gradientStrokeColor":"#000","gradientStrokeWidth":0.8,"values":[-0.8,-0.6,-0.4,-0.2,0],"labelExpr":"replace(format(datum.value,'.1f'),'-','−')","labelFontSize":13.9,"labelOffset":8,"title":null}},
"shape":{"field":"s","type":"nominal","scale":{"domain":["circle","square","triangle","star"],"range":["circle","square","triangle-up","M0,-1L0.2245,-0.309L0.951,-0.309L0.363,0.118L0.588,0.809L0,0.382L-0.588,0.809L-0.363,0.118L-0.951,-0.309L-0.2245,-0.309Z"]},"legend":null},
"size":{"field":"s","type":"nominal","scale":{"domain":["circle","square","triangle","star"],"range":[130,115,140,180]},"legend":null}}}
]},
{"data":{"name":"b1"},"mark":{"type":"line","color":"#000","strokeWidth":2},"encoding":{"x":{"field":"x","type":"quantitative","title":"log(Mₛₜₐᵣ/M☉)"},"y":{"field":"mid","type":"quantitative","axis":{"orient":"right","title":"log(Z/Z☉)","labels":false,"ticks":false,"domain":false,"grid":false,"titleAngle":270,"titleX":96,"titleY":153,"titleAlign":"center","titleBaseline":"middle","titleFontSize":19}}}}
]},
{"width":377,"height":306,"resolve":{"axis":{"y":"independent"}},"layer":[
{"layer":[
{"data":{"name":"b2"},"mark":{"type":"area","color":"#0000ff","opacity":0.3},"encoding":{"x":{"field":"x","type":"quantitative","title":"log(sSFR/yr⁻¹)","scale":{"domain":[-12,-8],"nice":false,"zero":false},"axis":{"values":[-12,-11.5,-11,-10.5,-10,-9.5,-9,-8.5,-8],"labelExpr":"replace(format(datum.value,'.1f'),'-','−')","titlePadding":4}},"y":{"field":"lo","type":"quantitative","title":"log(Dₛ/Dₗ)","scale":{"domain":[-2.5,1],"nice":false,"zero":false},"axis":{"values":[-2.5,-2,-1.5,-1,-0.5,0,0.5,1],"labelExpr":"replace(format(datum.value,'.1f'),'-','−')","titlePadding":6}},"y2":{"field":"hi"}}},
{"data":{"name":"p2"},"mark":{"type":"errorbar","color":"#808080","opacity":0.15,"ticks":{"size":9,"color":"#808080","opacity":0.15}},"encoding":{"x":{"field":"x","type":"quantitative","title":"log(sSFR/yr⁻¹)"},"y":{"field":"y","type":"quantitative","title":"log(Dₛ/Dₗ)"},"yError":{"field":"ye"}}},
{"data":{"name":"p2"},"mark":{"type":"errorbar","color":"#808080","opacity":0.15,"ticks":{"size":9,"color":"#808080","opacity":0.15}},"encoding":{"y":{"field":"y","type":"quantitative","title":"log(Dₛ/Dₗ)"},"x":{"field":"x","type":"quantitative","title":"log(sSFR/yr⁻¹)"},"xError":{"field":"xe"}}},
{"data":{"name":"p2"},"mark":{"type":"point","filled":true,"opacity":0.85,"strokeWidth":0},"encoding":{"x":{"field":"x","type":"quantitative","title":"log(sSFR/yr⁻¹)"},"y":{"field":"y","type":"quantitative","title":"log(Dₛ/Dₗ)"},
"color":{"field":"z","type":"quantitative","scale":{"type":"linear","domain":[-0.911,-0.777,-0.643,-0.509,-0.375,-0.241,-0.107,0.027,0.161],"range":["#000080","#0000ff","#0080ff","#14ffe2","#7cff7c","#e2ff14","#ff9700","#ff2100","#800000"],"interpolate":"rgb","clamp":true},"legend":{"type":"gradient","direction":"vertical","orient":"right","offset":-81,"padding":0,"gradientLength":306,"gradientThickness":15,"gradientStrokeColor":"#000","gradientStrokeWidth":0.8,"values":[-0.8,-0.6,-0.4,-0.2,0],"labelExpr":"replace(format(datum.value,'.1f'),'-','−')","labelFontSize":13.9,"labelOffset":8,"title":null}},
"shape":{"field":"s","type":"nominal","scale":{"domain":["circle","square","triangle","star"],"range":["circle","square","triangle-up","M0,-1L0.2245,-0.309L0.951,-0.309L0.363,0.118L0.588,0.809L0,0.382L-0.588,0.809L-0.363,0.118L-0.951,-0.309L-0.2245,-0.309Z"]},"legend":null},
"size":{"field":"s","type":"nominal","scale":{"domain":["circle","square","triangle","star"],"range":[130,115,140,180]},"legend":null}}}
]},
{"data":{"name":"b2"},"mark":{"type":"line","color":"#000","strokeWidth":2},"encoding":{"x":{"field":"x","type":"quantitative","title":"log(sSFR/yr⁻¹)"},"y":{"field":"mid","type":"quantitative","axis":{"orient":"right","title":"log(Z/Z☉)","labels":false,"ticks":false,"domain":false,"grid":false,"titleAngle":270,"titleX":96,"titleY":153,"titleAlign":"center","titleBaseline":"middle","titleFontSize":19}}}}
]},
{"width":377,"height":306,"resolve":{"axis":{"y":"independent"}},"layer":[
{"layer":[
{"data":{"name":"p3"},"mark":{"type":"errorbar","color":"#808080","opacity":0.15,"ticks":{"size":9,"color":"#808080","opacity":0.15}},"encoding":{"x":{"field":"x","type":"quantitative","title":"Mₜₒₜ/(Mgₐₛ+Mₛₜₐᵣ)","scale":{"domain":[-0.05,1.1],"nice":false,"zero":false},"axis":{"values":[0,0.2,0.4,0.6,0.8,1.0],"format":".1f","titlePadding":4}},"y":{"field":"y","type":"quantitative","title":"log(Dₛ/Dₗ)","scale":{"domain":[-2.5,1],"nice":false,"zero":false},"axis":{"values":[-2.5,-2,-1.5,-1,-0.5,0,0.5,1],"labelExpr":"replace(format(datum.value,'.1f'),'-','−')","titlePadding":6}},"yError":{"field":"ye"}}},
{"data":{"name":"p3"},"mark":{"type":"errorbar","color":"#808080","opacity":0.15,"ticks":{"size":9,"color":"#808080","opacity":0.15}},"encoding":{"y":{"field":"y","type":"quantitative","title":"log(Dₛ/Dₗ)"},"x":{"field":"x","type":"quantitative","title":"Mₜₒₜ/(Mgₐₛ+Mₛₜₐᵣ)"},"xError":{"field":"xe"}}},
{"data":{"name":"p3"},"mark":{"type":"point","filled":true,"opacity":0.85,"strokeWidth":0},"encoding":{"x":{"field":"x","type":"quantitative","title":"Mₜₒₜ/(Mgₐₛ+Mₛₜₐᵣ)"},"y":{"field":"y","type":"quantitative","title":"log(Dₛ/Dₗ)"},
"color":{"field":"z","type":"quantitative","scale":{"type":"linear","domain":[-0.911,-0.777,-0.643,-0.509,-0.375,-0.241,-0.107,0.027,0.161],"range":["#000080","#0000ff","#0080ff","#14ffe2","#7cff7c","#e2ff14","#ff9700","#ff2100","#800000"],"interpolate":"rgb","clamp":true},"legend":{"type":"gradient","direction":"vertical","orient":"right","offset":-81,"padding":0,"gradientLength":306,"gradientThickness":15,"gradientStrokeColor":"#000","gradientStrokeWidth":0.8,"values":[-0.8,-0.6,-0.4,-0.2,0],"labelExpr":"replace(format(datum.value,'.1f'),'-','−')","labelFontSize":13.9,"labelOffset":8,"title":null}},
"shape":{"field":"s","type":"nominal","scale":{"domain":["circle","square","triangle","star"],"range":["circle","square","triangle-up","M0,-1L0.2245,-0.309L0.951,-0.309L0.363,0.118L0.588,0.809L0,0.382L-0.588,0.809L-0.363,0.118L-0.951,-0.309L-0.2245,-0.309Z"]},"legend":null},
"size":{"field":"s","type":"nominal","scale":{"domain":["circle","square","triangle","star"],"range":[130,115,140,180]},"legend":null}}},
{"data":{"name":"b3"},"mark":{"type":"area","color":"#0000ff","opacity":0.3},"encoding":{"x":{"field":"x","type":"quantitative","title":"Mₜₒₜ/(Mgₐₛ+Mₛₜₐᵣ)"},"y":{"field":"lo","type":"quantitative","title":"log(Dₛ/Dₗ)"},"y2":{"field":"hi"}}}
]},
{"data":{"name":"b3"},"mark":{"type":"line","color":"#000","strokeWidth":2},"encoding":{"x":{"field":"x","type":"quantitative","title":"Mₜₒₜ/(Mgₐₛ+Mₛₜₐᵣ)"},"y":{"field":"mid","type":"quantitative","axis":{"orient":"right","title":"log(Z/Z☉)","labels":false,"ticks":false,"domain":false,"grid":false,"titleAngle":270,"titleX":96,"titleY":153,"titleAlign":"center","titleBaseline":"middle","titleFontSize":19}}}}
]}
],
"spacing":102,
"bounds":"flush",
"resolve":{"scale":{"color":"independent","shape":"independent","size":"independent","x":"independent","y":"independent"},"legend":{"color":"independent","shape":"independent","size":"independent"}}
}
